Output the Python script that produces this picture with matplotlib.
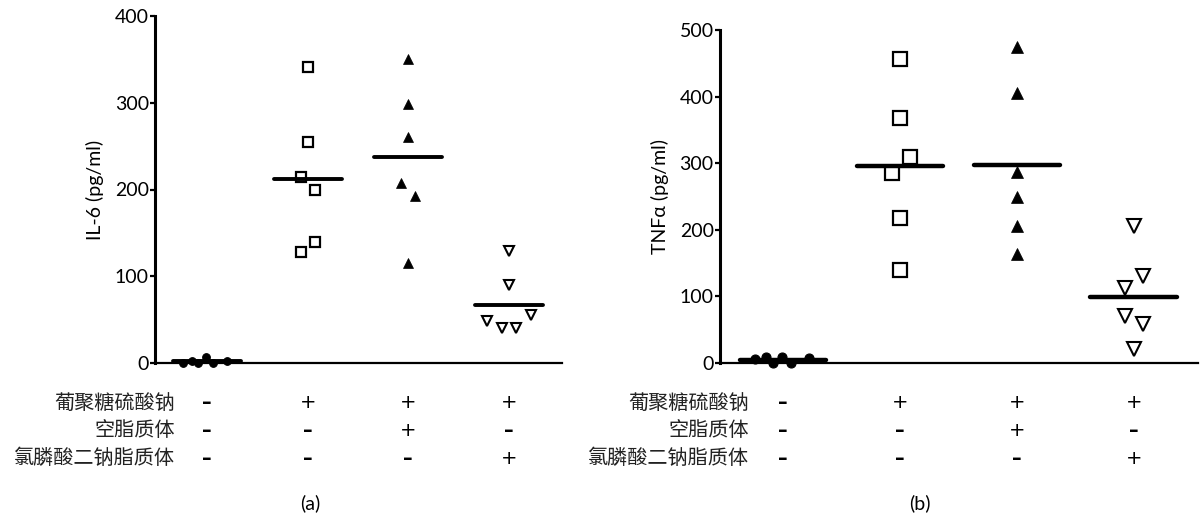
import numpy as np
import matplotlib
matplotlib.use("Agg")
import matplotlib.pyplot as plt
from matplotlib.transforms import blended_transform_factory

plt.rcParams['font.family'] = ['Lato', 'Noto Sans CJK SC', 'DejaVu Sans']

# ---------------- data ----------------
# panel (a) IL-6 (pg/ml)
il6_ctrl = [0.5, 2, 0.5, 7, 0.5, 2]
il6_ctrl_dx = [-0.24, -0.15, -0.09, -0.01, 0.06, 0.20]
il6_dss = [341, 255, 214, 199, 139, 128]
il6_dss_dx = [0, 0, -0.07, 0.07, 0.07, -0.07]
il6_empty = [351, 299, 260, 208, 193, 115]
il6_empty_dx = [0, 0, 0, -0.07, 0.07, 0]
il6_clod = [129, 90, 55, 48, 40, 40]
il6_clod_dx = [0, 0, 0.22, -0.215, -0.07, 0.073]

# panel (b) TNFα (pg/ml)
tnf_ctrl = [5.5, 8.5, 0.5, 9.5, 0.5, 7]
tnf_ctrl_dx = [-0.24, -0.15, -0.085, -0.01, 0.07, 0.22]
tnf_dss = [456, 368, 310, 285, 217, 140]
tnf_dss_dx = [0, 0, 0.085, -0.07, 0, 0]
tnf_empty = [474, 406, 287, 249, 206, 163]
tnf_empty_dx = [0, 0, 0, 0, 0, 0]
tnf_clod = [205, 130, 112, 71, 58, 21]
tnf_clod_dx = [0, 0.077, -0.077, -0.077, 0.077, 0]

row_labels = ['葡聚糖硫酸钠', '空脂质体', '氯膦酸二钠脂质体']
row_signs = [['-', '+', '+', '+'],
             ['-', '-', '+', '-'],
             ['-', '-', '-', '+']]
panel_labels = ['(a)', '(b)']
ylabels = ['IL-6 (pg/ml)', 'TNFα (pg/ml)']
yticks_a = [0, 100, 200, 300, 400]
yticks_b = [0, 100, 200, 300, 400, 500]

W, H = 1200, 520
fig = plt.figure(figsize=(W / 100, H / 100), dpi=100)

def fx(px):
    return px / W

def fy(py):
    return 1 - py / H

axA = fig.add_axes([fx(155), fy(363), fx(562 - 155), fy(16) - fy(363)])
axB = fig.add_axes([fx(720), fy(363), fx(1198 - 720), fy(30) - fy(363)])

def style(ax, ylim, yticks, ylabel, lw_left, lw_bottom):
    ax.set_ylim(*ylim)
    ax.set_yticks(yticks)
    ax.spines['top'].set_visible(False)
    ax.spines['right'].set_visible(False)
    ax.spines['left'].set_linewidth(lw_left)
    ax.spines['bottom'].set_linewidth(lw_bottom)
    ax.set_xticks([])
    ax.tick_params(axis='y', direction='out', length=3.5, width=1.6,
                   labelsize=14, pad=1)
    ax.set_ylabel(ylabel, fontsize=14, labelpad=8,
                  family=['Lato', 'DejaVu Sans'])

def draw(ax, groups, dxs, sizes, half, mean_lw):
    markers = ['o', 's', '^', 'v']
    faces = ['black', 'white', 'black', 'white']
    ews = [0.8, 1.6, 0.5, 1.5]
    for i, (vals, dx) in enumerate(zip(groups, dxs)):
        xs = i + np.array(dx)
        ax.plot(xs, vals, linestyle='none', marker=markers[i],
                markersize=sizes[i], markerfacecolor=faces[i],
                markeredgecolor='black', markeredgewidth=ews[i],
                clip_on=False, zorder=3)
        m = np.mean(vals)
        ax.plot([i - half, i + half], [m, m], color='black',
                linewidth=mean_lw, solid_capstyle='round', clip_on=False,
                zorder=4)

draw(axA, [il6_ctrl, il6_dss, il6_empty, il6_clod],
     [il6_ctrl_dx, il6_dss_dx, il6_empty_dx, il6_clod_dx],
     [5.5, 7.8, 7.2, 7.8], 0.34, 2.8)
draw(axB, [tnf_ctrl, tnf_dss, tnf_empty, tnf_clod],
     [tnf_ctrl_dx, tnf_dss_dx, tnf_empty_dx, tnf_clod_dx],
     [6.5, 9.5, 8.5, 9.5], 0.37, 3.2)

axA.set_xlim(-0.52, 3.53)
axB.set_xlim(-0.54, 3.55)
style(axA, (0, 400), yticks_a, ylabels[0], 2.2, 1.6)
style(axB, (0, 500), yticks_b, ylabels[1], 2.2, 1.6)

row_y = [403, 431, 458]
label_x = [175, 749]
for ax, lx in zip([axA, axB], label_x):
    tr = blended_transform_factory(ax.transData, fig.transFigure)
    for r, (lab, signs) in enumerate(zip(row_labels, row_signs)):
        fig.text(fx(lx), fy(row_y[r]), lab, ha='right', va='center',
                 fontsize=14.5, family=['Noto Sans CJK SC', 'DejaVu Sans'],
                 color='#222222')
        for c, s in enumerate(signs):
            if s == '+':
                ax.text(c, fy(row_y[r]), '+', transform=tr, ha='center',
                        va='center', fontsize=14, family='DejaVu Sans',
                        color='black')
            else:
                ax.text(c, fy(row_y[r]), '–', transform=tr, ha='center',
                        va='center', fontsize=14, fontweight='bold',
                        family='DejaVu Sans', color='black')

fig.text(fx(310), fy(503), panel_labels[0], ha='center', va='center', fontsize=14)
fig.text(fx(920), fy(503), panel_labels[1], ha='center', va='center', fontsize=14)

fig.savefig('out.png', dpi=100, facecolor='white')
